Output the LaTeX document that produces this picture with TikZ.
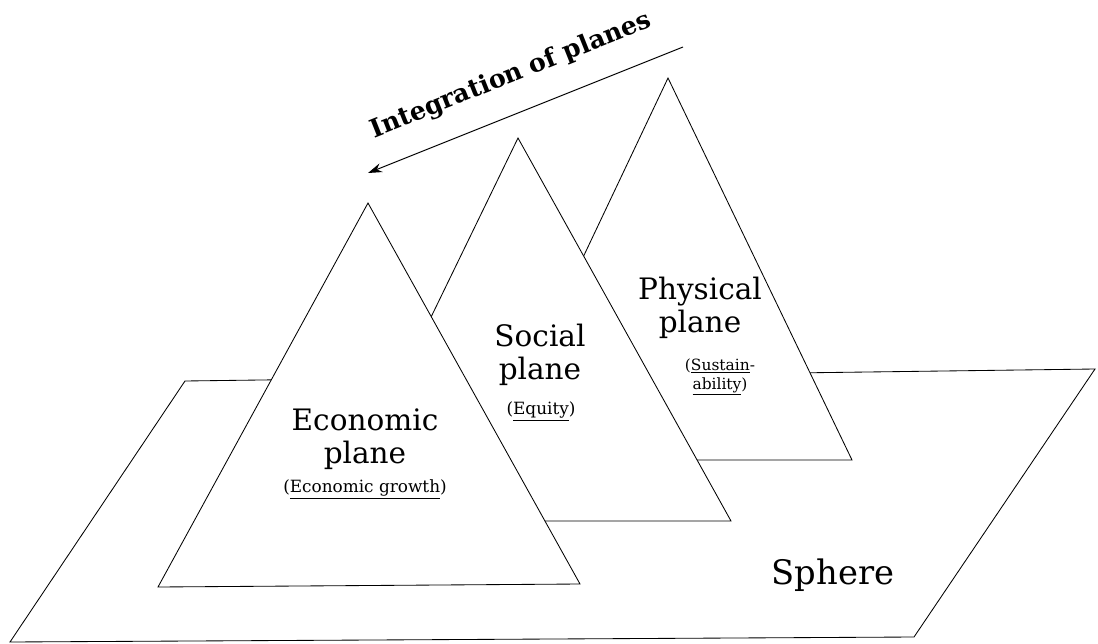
\documentclass[tikz,border=0pt]{standalone}
\usepackage{fontspec}
\setmainfont{DejaVu Serif}
\usetikzlibrary{positioning,arrows.meta}

\tikzset{
  plane/.style={draw, fill=white, line width=0.6pt, line join=miter},
  bigtxt/.style={align=center, font=\fontsize{21}{23.5}\selectfont},
  smalltxt/.style={align=center, font=\fontsize{12}{13.5}\selectfont},
}

\begin{document}
\begin{tikzpicture}[x=0.025cm,y=-0.025cm]
	\useasboundingbox (0,0) rectangle (1098,644);
	% the sphere
	\draw[plane] (185,381) -- (1095,369) -- (914,637) -- (10,642) -- cycle;
	% the three planes, back to front
	\draw[plane] (668,78) -- (852,460) -- (487,460) -- cycle;
	\draw[plane] (518,138) -- (731,521) -- (332,521) -- cycle;
	\draw[plane] (368,203) -- (580,584) -- (158,587) -- cycle;
	% labels
	\node[bigtxt] (phys) at (700,308) {Physical\\plane};
	\node[smalltxt, font=\fontsize{11}{13.5}\selectfont] (physsub) at (720,377) {(\underline{Sustain}-\\\underline{ability})};
	\node[bigtxt] (soc) at (540,355) {Social\\plane};
	\node[smalltxt] (socsub) at (541,411) {(\underline{Equity})};
	\node[bigtxt] (econ) at (365,439) {Economic\\plane};
	\node[smalltxt] (econsub) at (365,489) {(\underline{Economic growth})};
	\node[font=\fontsize{24}{26}\selectfont] (sphere) at (833,575) {Sphere};
	% integration arrow
	\coordinate (intS) at (683,47);
	\coordinate (intE) at (368,173);
	\draw[-{Stealth[length=10pt,width=6.5pt]}, line width=0.7pt] (intS) -- (intE);
	\node[font=\fontsize{18}{20}\bfseries\selectfont, rotate=21.8] (integ) at (511,76) {Integration of planes};
\end{tikzpicture}
\end{document}
